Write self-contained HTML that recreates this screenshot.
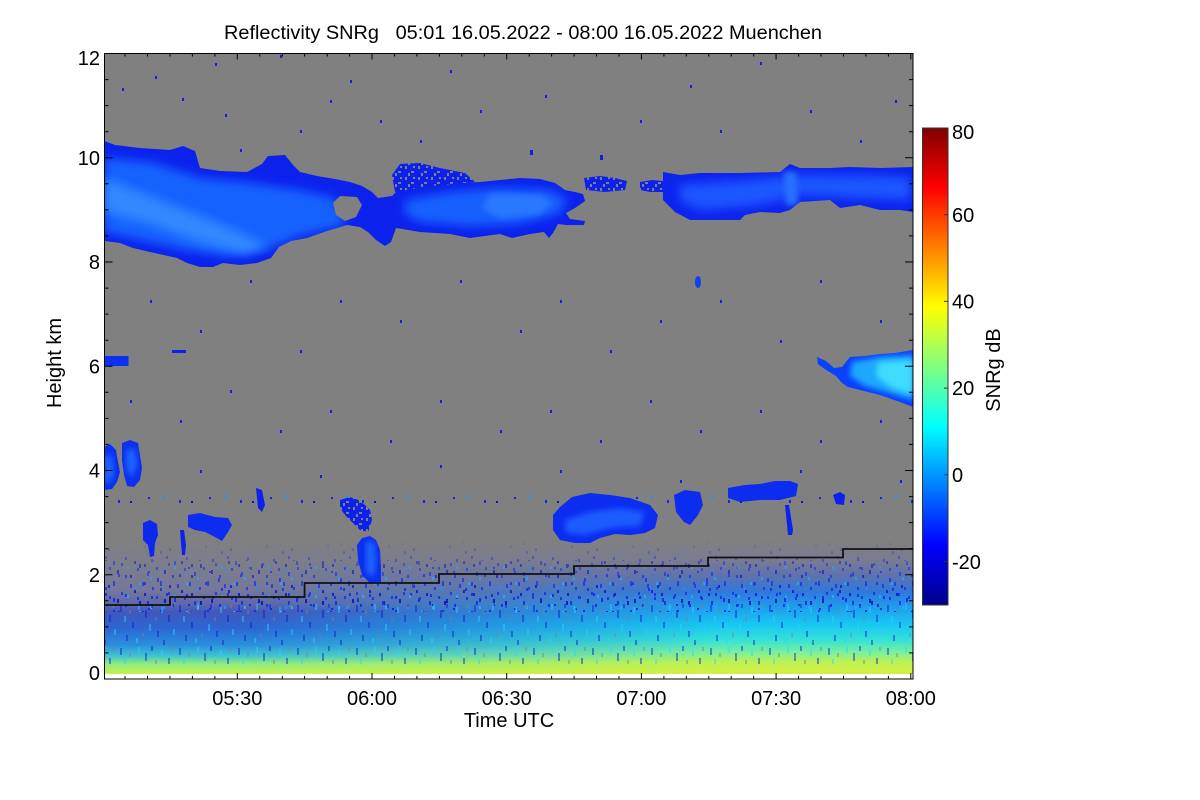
<!DOCTYPE html>
<html><head><meta charset="utf-8">
<style>
html,body{margin:0;padding:0;background:#fff;}
svg{display:block;}
text{font-family:"Liberation Sans",Arial,sans-serif;fill:#000;}
</style></head><body>
<svg width="1200" height="800" viewBox="0 0 1200 800" xmlns="http://www.w3.org/2000/svg">
<defs>
 <linearGradient id="jet" x1="0" y1="1" x2="0" y2="0">
  <stop offset="0" stop-color="#00008a"/>
  <stop offset="0.125" stop-color="#0000ff"/>
  <stop offset="0.375" stop-color="#00ffff"/>
  <stop offset="0.625" stop-color="#ffff00"/>
  <stop offset="0.875" stop-color="#ff0000"/>
  <stop offset="1" stop-color="#800000"/>
 </linearGradient>
 <linearGradient id="blL" gradientUnits="userSpaceOnUse" x1="0" y1="540" x2="0" y2="674">
  <stop offset="0" stop-color="#808080"/>
  <stop offset="0.187" stop-color="#7c7e8c"/>
  <stop offset="0.373" stop-color="#74789a"/>
  <stop offset="0.478" stop-color="#5e68aa"/>
  <stop offset="0.537" stop-color="#4058bc"/>
  <stop offset="0.657" stop-color="#2c66d2"/>
  <stop offset="0.784" stop-color="#2a90de"/>
  <stop offset="0.866" stop-color="#40c4d0"/>
  <stop offset="0.925" stop-color="#90ec80"/>
  <stop offset="1" stop-color="#c4f04a"/>
 </linearGradient>
 <linearGradient id="blR" gradientUnits="userSpaceOnUse" x1="0" y1="540" x2="0" y2="674">
  <stop offset="0" stop-color="#808080"/>
  <stop offset="0.149" stop-color="#7a7c90"/>
  <stop offset="0.261" stop-color="#6072ac"/>
  <stop offset="0.388" stop-color="#3078dc"/>
  <stop offset="0.507" stop-color="#1ea0ec"/>
  <stop offset="0.634" stop-color="#18c8f2"/>
  <stop offset="0.746" stop-color="#34e2d8"/>
  <stop offset="0.836" stop-color="#78f0a0"/>
  <stop offset="0.910" stop-color="#bcf256"/>
  <stop offset="1" stop-color="#d8ee3e"/>
 </linearGradient>
 <linearGradient id="hf" gradientUnits="userSpaceOnUse" x1="250" y1="0" x2="720" y2="0">
  <stop offset="0" stop-color="#000"/>
  <stop offset="1" stop-color="#fff"/>
 </linearGradient>
 <mask id="mR" maskUnits="userSpaceOnUse" x="0" y="0" width="1200" height="800">
  <rect x="100" y="520" width="820" height="160" fill="url(#hf)"/>
 </mask>
 <linearGradient id="vf" gradientUnits="userSpaceOnUse" x1="0" y1="540" x2="0" y2="612">
  <stop offset="0" stop-color="#000"/>
  <stop offset="0.35" stop-color="#888"/>
  <stop offset="1" stop-color="#fff"/>
 </linearGradient>
 <mask id="mV" maskUnits="userSpaceOnUse" x="0" y="0" width="1200" height="800">
  <rect x="100" y="540" width="820" height="72" fill="url(#vf)"/>
 </mask>
 <pattern id="sp" width="61" height="37" patternUnits="userSpaceOnUse">
  <g fill="#1428e0">
   <rect x="3" y="2" width="2" height="3"/><rect x="29" y="4" width="2" height="3"/><rect x="52" y="6" width="2" height="4"/>
   <rect x="22" y="27" width="2" height="3"/><rect x="35" y="23" width="2" height="4"/><rect x="57" y="19" width="2" height="3"/>
   <rect x="26" y="16" width="2" height="2"/><rect x="44" y="1" width="2" height="3"/><rect x="5" y="12" width="2" height="2"/>
   <rect x="38" y="33" width="2" height="3"/>
  </g>
  <g fill="#0a14c0"><rect x="17" y="9" width="2" height="4"/><rect x="8" y="20" width="2" height="3"/><rect x="47" y="30" width="2" height="3"/></g>
  <g fill="#2090ff"><rect x="41" y="14" width="2" height="3"/><rect x="12" y="32" width="2" height="3"/></g>
 </pattern>
 <pattern id="sp2" width="47" height="29" patternUnits="userSpaceOnUse">
  <g fill="#1430e8">
   <rect x="1" y="2" width="2" height="4"/><rect x="11" y="7" width="2" height="3"/><rect x="19" y="1" width="2" height="5"/>
   <rect x="27" y="12" width="2" height="3"/><rect x="36" y="4" width="2" height="4"/><rect x="43" y="17" width="2" height="3"/>
   <rect x="6" y="21" width="2" height="4"/><rect x="15" y="16" width="2" height="3"/><rect x="31" y="24" width="2" height="3"/>
  </g>
  <g fill="#0a14c0"><rect x="23" y="19" width="2" height="4"/><rect x="40" y="10" width="2" height="3"/><rect x="3" y="13" width="2" height="3"/></g>
  <g fill="#20b0ff"><rect x="9" y="26" width="2" height="3"/><rect x="33" y="15" width="2" height="3"/><rect x="45" y="2" width="2" height="3"/></g>
 </pattern>
 <pattern id="streak" width="59" height="43" patternUnits="userSpaceOnUse">
  <g fill="#0a16c8">
   <rect x="2" y="3" width="2" height="7"/><rect x="14" y="20" width="2" height="6"/><rect x="27" y="8" width="2" height="8"/>
   <rect x="39" y="29" width="2" height="6"/><rect x="50" y="13" width="2" height="7"/><rect x="8" y="33" width="2" height="6"/>
   <rect x="33" y="1" width="2" height="5"/><rect x="45" y="38" width="2" height="5"/>
  </g>
  <g fill="#30d0ff">
   <rect x="6" y="14" width="2" height="6"/><rect x="20" y="2" width="2" height="6"/><rect x="31" y="22" width="2" height="7"/>
   <rect x="43" y="5" width="2" height="6"/><rect x="55" y="27" width="2" height="6"/><rect x="18" y="36" width="2" height="5"/>
  </g>
  <g fill="#808080">
   <rect x="11" y="8" width="2" height="4"/><rect x="24" y="31" width="2" height="4"/><rect x="37" y="15" width="2" height="4"/>
   <rect x="53" y="2" width="2" height="4"/>
  </g>
 </pattern>
 <pattern id="dense" width="13" height="11" patternUnits="userSpaceOnUse">
  <rect x="0" y="0" width="13" height="11" fill="#0c22ec"/>
  <rect x="2" y="1" width="2" height="3" fill="#808080"/>
  <rect x="8" y="6" width="3" height="2" fill="#808080"/>
  <rect x="5" y="8" width="2" height="3" fill="#808080"/>
  <rect x="10" y="1" width="2" height="2" fill="#808080"/>
 </pattern>
 <filter id="b5" x="-20%" y="-20%" width="140%" height="140%"><feGaussianBlur stdDeviation="5"/></filter>
 <filter id="b3" x="-20%" y="-20%" width="140%" height="140%"><feGaussianBlur stdDeviation="3"/></filter>
 <clipPath id="c12"><path id="p12" d="M104.5,141 L115,145 L140,148 L170,150 L183,146 L195,151 L200,168 L220,171 L247,172 L262,164 L268,156 L285,155 L293,165 L300,172 L317,176 L335,179 L350,182 L362,186 L372,192 L378,198 L392,196 L400,188 L430,183 L460,183 L480,182 L500,180 L520,178 L540,179 L555,183 L565,190 L575,192 L583,194 L585,201 L575,208 L566,213 L570,219 L585,221 L584,225 L566,225 L558,224 L553,233 L549,238 L544,232 L530,234 L512,238 L500,234 L470,238 L450,234 L420,232 L396,228 L391,242 L385,246 L376,240 L368,232 L360,227 L347,225 L327,231 L307,238 L291,241 L279,247 L271,258 L257,263 L240,265 L223,263 L213,267 L200,267 L187,263 L177,258 L150,252 L133,248 L120,243 L104.5,241 Z"/></clipPath>
 <clipPath id="c3"><path id="p3" d="M663,172 L680,175 L700,173 L740,173 L780,172 L790,164 L800,168 L830,168 L850,167 L880,168 L913,167 L913,212 L900,210 L880,210 L860,205 L840,208 L830,200 L800,202 L790,210 L780,213 L760,212 L745,215 L740,220 L690,220 L675,212 L663,200 Z"/></clipPath>
 <clipPath id="c6"><path id="p6" d="M817,357 L826,361 L834,368 L842,367 L850,357 L865,356 L880,354 L895,353 L913,350 L913,407 L900,402 L880,395 L860,390 L848,387 L842,383 L836,376 L826,370 L818,364 Z"/></clipPath>
 <clipPath id="cp"><rect x="104.5" y="53.5" width="808.5" height="620.5"/></clipPath>
</defs>

<rect x="104.5" y="53.5" width="808.5" height="625.5" fill="#fff"/>
<g clip-path="url(#cp)">
 <rect x="104.5" y="53.5" width="808.5" height="620.5" fill="#808080"/>
 <rect x="104.5" y="540" width="808.5" height="134" fill="url(#blL)"/>
 <rect x="104.5" y="540" width="808.5" height="134" fill="url(#blR)" mask="url(#mR)"/>
 <!-- speckle above/at BL -->
 <g mask="url(#mV)">
  <rect x="104.5" y="540" width="808.5" height="72" fill="url(#sp)"/>
  <rect x="104.5" y="560" width="808.5" height="52" fill="url(#sp2)"/>
 </g>
 <rect x="104.5" y="604" width="808.5" height="60" fill="url(#streak)" opacity="0.45"/>
 <!-- speckle row -->
 <rect x="104.5" y="495" width="808.5" height="8" fill="url(#sp)"/>

 <use href="#p12" fill="#0c22ec"/>
 <g clip-path="url(#c12)">
  <path d="M104,158 L150,162 L200,178 L250,183 L300,190 L335,198 L345,225 L300,236 L265,250 L225,256 L185,250 L140,240 L104,232 Z" fill="#1862ff" filter="url(#b5)"/>
  <path d="M104,178 L140,192 L185,210 L230,228 L268,246 L245,254 L200,242 L150,224 L104,212 Z" fill="#3088ff" filter="url(#b5)"/>
  <path d="M405,200 L450,192 L500,188 L550,190 L568,200 L558,214 L520,224 L470,226 L420,222 L405,214 Z" fill="#1860ff" filter="url(#b5)"/>
  <path d="M490,194 L540,195 L552,203 L540,214 L500,218 L482,208 Z" fill="#2a78ff" filter="url(#b3)"/>
 </g>
 <path d="M333,203 L340,196 L357,197 L362,205 L356,217 L345,221 L336,215 Z" fill="#808080"/>
 <path d="M392,175 L400,164 L420,163 L440,168 L465,173 L475,182 L430,186 L395,192 Z" fill="url(#dense)"/>
 <path d="M584,178 L600,176 L615,178 L627,181 L625,190 L605,192 L586,190 Z" fill="url(#dense)"/>
 <path d="M640,182 L652,180 L663,181 L663,192 L650,192 L640,190 Z" fill="url(#dense)"/>

 <use href="#p3" fill="#0c24ee"/>
 <g clip-path="url(#c3)">
  <path d="M680,185 L750,180 L800,175 L880,176 L910,178 L910,200 L860,198 L800,195 L760,205 L700,210 L680,200 Z" fill="#1a56ff" filter="url(#b5)"/>
  <path d="M784,172 L796,172 L798,205 L786,205 Z" fill="#2a70ff" filter="url(#b3)"/>
 </g>

 <use href="#p6" fill="#0a40ff"/>
 <g clip-path="url(#c6)">
  <path d="M852,362 L880,357 L913,355 L913,400 L890,393 L865,386 L850,376 Z" fill="#1aa8ff" filter="url(#b3)"/>
  <path d="M878,362 L913,360 L913,394 L892,388 L876,376 Z" fill="#40dcff" filter="url(#b3)"/>
 </g>
 <rect x="104.5" y="356" width="24" height="10" fill="#0c30f0"/>
 <rect x="172" y="350" width="14" height="3" fill="#0c22ec"/>

 <path d="M104,447 L110,444 L116,450 L118,462 L120,472 L117,482 L112,489 L104,490 Z" fill="#0c30f0"/>
 <path d="M104,455 L112,456 L114,475 L108,484 L104,482 Z" fill="#1e66ff" filter="url(#b3)"/>
 <path d="M122,443 L130,440 L138,443 L140,455 L142,468 L140,480 L134,487 L127,486 L124,475 L122,460 Z" fill="#0c30f0"/>
 <path d="M126,450 L135,449 L137,465 L132,478 L127,470 Z" fill="#1e66ff" filter="url(#b3)"/>

 <path d="M143,523 L150,520 L157,524 L158,535 L155,543 L154,556 L150,557 L148,545 L143,540 Z" fill="#0c28ee"/>
 <path d="M188,515 L200,513 L215,517 L228,518 L232,525 L228,532 L222,541 L215,537 L205,532 L195,530 L188,527 Z" fill="#0c2cf0"/>
 <path d="M180,530 L184,530 L186,545 L185,555 L182,555 Z" fill="#0c22ec"/>
 <path d="M256,488 L262,490 L265,505 L262,512 L258,508 Z" fill="#0c22ec"/>
 <path d="M340,500 L350,497 L358,500 L365,505 L370,510 L372,520 L368,532 L360,530 L352,522 L345,515 L340,508 Z" fill="url(#dense)"/>
 <path d="M357,545 L362,538 L370,536 L376,540 L380,550 L381,570 L381,583 L370,583 L362,575 L358,560 Z" fill="#0c30f0"/>
 <path d="M366,542 L374,542 L376,565 L372,578 L366,570 Z" fill="#1e66ff" filter="url(#b3)"/>

 <path d="M553,515 L560,507 L572,497 L590,493 L610,495 L630,498 L650,505 L658,515 L655,528 L645,533 L630,535 L615,534 L600,538 L590,543 L575,543 L560,540 L553,530 Z" fill="#0c2cf0"/>
 <path d="M565,520 L590,512 L620,508 L645,512 L640,526 L610,528 L585,535 L566,533 Z" fill="#1c5cff" filter="url(#b3)"/>
 <path d="M674,495 L685,490 L700,492 L703,505 L698,515 L690,525 L684,522 L676,512 Z" fill="#0c2cf0"/>
 <path d="M728,488 L745,485 L760,484 L775,481 L790,481 L798,484 L796,496 L780,500 L760,500 L740,502 L728,498 Z" fill="#0c2cf0"/>
 <path d="M785,505 L789,505 L793,530 L792,535 L788,535 Z" fill="#0c22ec"/>
 <path d="M833,495 L840,492 L845,495 L844,505 L836,504 Z" fill="#0c22ec"/>
 <ellipse cx="698" cy="282" rx="3" ry="6" fill="#1040f0"/>

 <g fill="#1020e0">
  <rect x="122" y="88" width="2" height="3"/><rect x="155" y="76" width="2" height="3"/><rect x="182" y="98" width="2" height="3"/>
  <rect x="215" y="63" width="2" height="3"/><rect x="225" y="114" width="2" height="3"/><rect x="240" y="149" width="2" height="3"/>
  <rect x="280" y="55" width="2" height="3"/><rect x="300" y="130" width="2" height="3"/><rect x="330" y="100" width="2" height="3"/>
  <rect x="350" y="80" width="2" height="3"/><rect x="380" y="120" width="2" height="3"/><rect x="420" y="140" width="2" height="3"/>
  <rect x="450" y="70" width="2" height="3"/><rect x="480" y="110" width="2" height="3"/><rect x="530" y="150" width="3" height="5"/>
  <rect x="545" y="95" width="2" height="3"/><rect x="600" y="155" width="3" height="5"/><rect x="640" y="120" width="2" height="3"/>
  <rect x="690" y="85" width="2" height="3"/><rect x="720" y="130" width="2" height="3"/><rect x="760" y="62" width="2" height="3"/>
  <rect x="810" y="110" width="2" height="3"/><rect x="860" y="140" width="2" height="3"/><rect x="895" y="100" width="2" height="3"/>
  <rect x="150" y="300" width="2" height="3"/><rect x="200" y="330" width="2" height="3"/><rect x="250" y="280" width="2" height="3"/>
  <rect x="300" y="350" width="2" height="3"/><rect x="340" y="300" width="2" height="3"/><rect x="400" y="320" width="2" height="3"/>
  <rect x="460" y="280" width="2" height="3"/><rect x="520" y="330" width="2" height="3"/><rect x="560" y="300" width="2" height="3"/>
  <rect x="610" y="350" width="2" height="3"/><rect x="660" y="320" width="2" height="3"/><rect x="720" y="300" width="2" height="3"/>
  <rect x="780" y="340" width="2" height="3"/><rect x="820" y="280" width="2" height="3"/><rect x="880" y="320" width="2" height="3"/>
  <rect x="130" y="400" width="2" height="3"/><rect x="180" y="420" width="2" height="3"/><rect x="230" y="390" width="2" height="3"/>
  <rect x="280" y="430" width="2" height="3"/><rect x="330" y="410" width="2" height="3"/><rect x="390" y="440" width="2" height="3"/>
  <rect x="440" y="400" width="2" height="3"/><rect x="500" y="430" width="2" height="3"/><rect x="550" y="410" width="2" height="3"/>
  <rect x="600" y="440" width="2" height="3"/><rect x="650" y="400" width="2" height="3"/><rect x="700" y="430" width="2" height="3"/>
  <rect x="760" y="410" width="2" height="3"/><rect x="820" y="440" width="2" height="3"/><rect x="880" y="420" width="2" height="3"/>
  <rect x="200" y="470" width="2" height="3"/><rect x="320" y="475" width="2" height="3"/><rect x="440" y="465" width="2" height="3"/>
  <rect x="560" y="470" width="2" height="3"/><rect x="680" y="480" width="2" height="3"/><rect x="800" y="470" width="2" height="3"/>
  <rect x="900" y="480" width="2" height="3"/>
 </g>
</g>

<polyline points="104.5,605 170,605 170,597 304.6,597 304.6,583 439,583 439,574 574,574 574,566 708,566 708,557.5 843,557.5 843,549 913,549" fill="none" stroke="#111" stroke-width="1.8"/>

<rect x="104.5" y="53.5" width="808.5" height="625.5" fill="none" stroke="#000" stroke-width="1"/>

<g stroke="#000" stroke-width="1">
 <path d="M104.5,53.5h8M104.5,157.75h8M104.5,262h8M104.5,366.25h8M104.5,470.5h8M104.5,574.75h8M104.5,679h8
 M913,53.5h-8M913,157.75h-8M913,262h-8M913,366.25h-8M913,470.5h-8M913,574.75h-8M913,679h-8"/>
 <path d="M104.5,79.6h4M104.5,105.6h4M104.5,131.7h4M104.5,183.8h4M104.5,209.9h4M104.5,235.9h4M104.5,288.1h4M104.5,314.1h4M104.5,340.2h4M104.5,392.3h4M104.5,418.4h4M104.5,444.4h4M104.5,496.6h4M104.5,522.6h4M104.5,548.7h4M104.5,600.8h4M104.5,626.9h4M104.5,652.9h4
 M913,79.6h-4M913,105.6h-4M913,131.7h-4M913,183.8h-4M913,209.9h-4M913,235.9h-4M913,288.1h-4M913,314.1h-4M913,340.2h-4M913,392.3h-4M913,418.4h-4M913,444.4h-4M913,496.6h-4M913,522.6h-4M913,548.7h-4M913,600.8h-4M913,626.9h-4M913,652.9h-4"/>
 <path d="M125,679v-3M147.5,679v-3M170,679v-3M192.4,679v-3M214.9,679v-3M259.8,679v-3M282.3,679v-3M304.6,679v-3M327.2,679v-3M349.6,679v-3M394.5,679v-3M416.9,679v-3M439.4,679v-3M461.8,679v-3M484.3,679v-3M529.2,679v-3M551.6,679v-3M574.1,679v-3M596.5,679v-3M619,679v-3M663.9,679v-3M686.3,679v-3M708.8,679v-3M731.2,679v-3M753.7,679v-3M798.6,679v-3M821,679v-3M843.5,679v-3M865.9,679v-3M888.4,679v-3
 M125,53.5v3M147.5,53.5v3M170,53.5v3M192.4,53.5v3M214.9,53.5v3M259.8,53.5v3M282.3,53.5v3M304.6,53.5v3M327.2,53.5v3M349.6,53.5v3M394.5,53.5v3M416.9,53.5v3M439.4,53.5v3M461.8,53.5v3M484.3,53.5v3M529.2,53.5v3M551.6,53.5v3M574.1,53.5v3M596.5,53.5v3M619,53.5v3M663.9,53.5v3M686.3,53.5v3M708.8,53.5v3M731.2,53.5v3M753.7,53.5v3M798.6,53.5v3M821,53.5v3M843.5,53.5v3M865.9,53.5v3M888.4,53.5v3"/>
 <path d="M237.3,679v-6M372,679v-6M506.7,679v-6M641.4,679v-6M776.1,679v-6M910.8,679v-6
 M237.3,53.5v6M372,53.5v6M506.7,53.5v6M641.4,53.5v6M776.1,53.5v6M910.8,53.5v6"/>
</g>

<g font-size="20" text-anchor="end">
 <text x="100" y="65">12</text>
 <text x="100" y="165">10</text>
 <text x="100" y="269">8</text>
 <text x="100" y="373.5">6</text>
 <text x="100" y="477.5">4</text>
 <text x="100" y="582">2</text>
 <text x="100" y="680">0</text>
</g>
<text transform="translate(61,363) rotate(-90)" font-size="20" text-anchor="middle">Height km</text>

<g font-size="20" text-anchor="middle">
 <text x="237.3" y="705">05:30</text>
 <text x="372" y="705">06:00</text>
 <text x="506.7" y="705">06:30</text>
 <text x="641.4" y="705">07:00</text>
 <text x="776.1" y="705">07:30</text>
 <text x="910.8" y="705">08:00</text>
</g>
<text x="509" y="727" font-size="20" text-anchor="middle">Time UTC</text>

<text x="224" y="39" font-size="19" style="white-space:pre" textLength="598" lengthAdjust="spacingAndGlyphs">Reflectivity SNRg   05:01 16.05.2022 - 08:00 16.05.2022 Muenchen</text>

<rect x="922.5" y="128" width="25.5" height="477" fill="url(#jet)" stroke="#333" stroke-width="1"/>
<g stroke="#333" stroke-width="1">
 <path d="M948,214.7h-4M948,301.4h-4M948,388.1h-4M948,474.9h-4M948,561.6h-4"/>
</g>
<g font-size="20">
 <text x="952" y="139">80</text>
 <text x="952" y="222">60</text>
 <text x="952" y="308.5">40</text>
 <text x="952" y="395">20</text>
 <text x="952" y="482">0</text>
 <text x="952" y="569">-20</text>
</g>
<text transform="translate(1000,370) rotate(-90)" font-size="20" text-anchor="middle">SNRg dB</text>
</svg>
</body></html>
